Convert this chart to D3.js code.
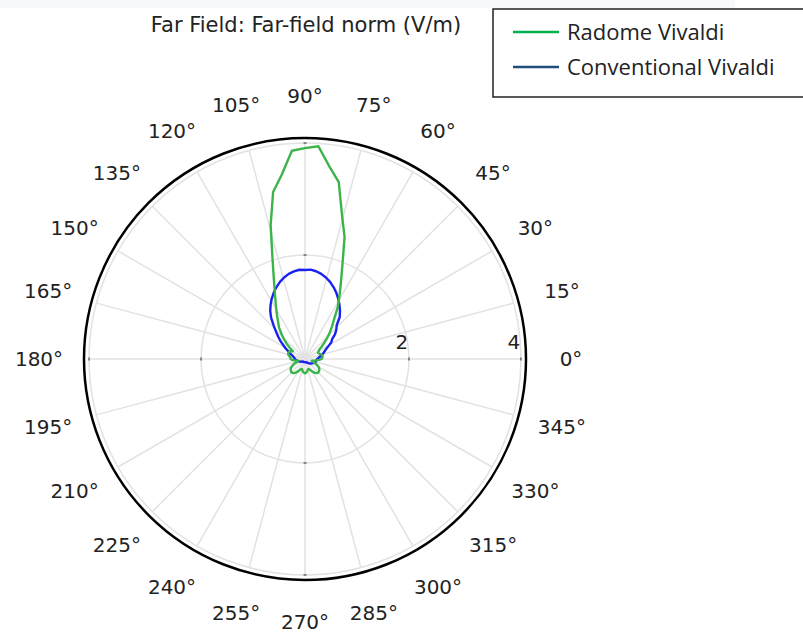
<!DOCTYPE html>
<html>
<head>
<meta charset="utf-8">
<script src="https://cdn.jsdelivr.net/npm/d3@7"></script>
<style>
  body { margin: 0; background: #ffffff; }
  svg { display: block; }
</style>
</head>
<body>
<svg id="chart" width="803" height="634"></svg>
<script>
// Far-field norm (V/m) sampled every 3.6 degrees, 0..356.4
const angleStep = 3.6;

const radomeVivaldi = [
  0.44, 0.45, 0.46, 0.46, 0.45, 0.43, 0.41, 0.40, 0.42, 0.44,
  0.50, 0.58, 0.68, 0.79, 0.90, 1.03, 1.23, 1.42, 1.65, 1.96,
  2.43, 2.80, 3.36, 3.61, 3.95, 3.91, 3.87, 3.46, 3.18, 2.61,
  2.02, 1.65, 1.40, 1.22, 1.08, 0.96, 0.87, 0.755, 0.66, 0.56,
  0.47, 0.40, 0.43, 0.45, 0.46, 0.46, 0.45, 0.43, 0.41, 0.40,
  0.40, 0.38, 0.34, 0.30, 0.27, 0.28, 0.32, 0.37, 0.41, 0.44,
  0.46, 0.47, 0.48, 0.48, 0.47, 0.45, 0.42, 0.39, 0.36, 0.34,
  0.33, 0.34, 0.36, 0.38, 0.39, 0.40, 0.39, 0.38, 0.36, 0.34,
  0.33, 0.34, 0.36, 0.39, 0.42, 0.45, 0.47, 0.48, 0.48, 0.47,
  0.46, 0.44, 0.41, 0.37, 0.32, 0.28, 0.27, 0.30, 0.34, 0.40
];

const conventionalVivaldi = [
  0.36, 0.38, 0.40, 0.43, 0.46, 0.49, 0.52, 0.56, 0.62, 0.70,
  0.74, 0.84, 0.91, 0.97, 1.116, 1.206, 1.29, 1.375, 1.454, 1.525,
  1.59, 1.645, 1.69, 1.723, 1.743, 1.732, 1.74, 1.72, 1.69, 1.645,
  1.59, 1.525, 1.454, 1.375, 1.29, 1.20, 1.09, 0.96, 0.85, 0.76,
  0.68, 0.60, 0.54, 0.48, 0.44, 0.40, 0.37, 0.355, 0.34, 0.33,
  0.32, 0.31, 0.30, 0.29, 0.28, 0.27, 0.26, 0.25, 0.24, 0.23,
  0.22, 0.22, 0.21, 0.21, 0.20, 0.20, 0.20, 0.20, 0.20, 0.20,
  0.20, 0.20, 0.20, 0.20, 0.20, 0.20, 0.20, 0.20, 0.20, 0.20,
  0.20, 0.21, 0.21, 0.22, 0.22, 0.23, 0.24, 0.25, 0.26, 0.27,
  0.28, 0.29, 0.30, 0.31, 0.32, 0.33, 0.34, 0.34, 0.35, 0.35
];

const seriesNames = ["Radome Vivaldi", "Conventional Vivaldi"];
const radialTicks = [2, 4];
const angleTicks = d3.range(0, 360, 15);
const radialDomain = [0.143, 4.09];
const titleText = "Far Field: Far-field norm (V/m)";

const svg = d3.select("#chart");
const cx = 305, cy = 359, R = 221;

// light band across the top edge
svg.append("rect").attr("x", 0).attr("y", 0).attr("width", 735).attr("height", 8)
  .attr("fill", "#f6f8fc");

const rScale = d3.scaleLinear().domain(radialDomain).range([0, R]);
const aScale = d3.scaleLinear().domain([0, 360]).range([0, 2 * Math.PI]);

const g = svg.append("g").attr("transform", `translate(${cx},${cy})`);

// polar helpers (math convention: counter-clockwise from +x)
const px = (deg, rad) => rad * Math.cos(aScale(deg));
const py = (deg, rad) => -rad * Math.sin(aScale(deg));

// spokes
g.selectAll("line.spoke").data(angleTicks).join("line")
  .attr("class", "spoke")
  .attr("x1", 0).attr("y1", 0)
  .attr("x2", d => px(d, rScale(4)))
  .attr("y2", d => py(d, rScale(4)))
  .attr("stroke", "#e2e2e2").attr("stroke-width", 1.5);

// grid circles
g.selectAll("circle.grid").data(radialTicks).join("circle")
  .attr("class", "grid")
  .attr("r", d => rScale(d))
  .attr("fill", "none").attr("stroke", "#e2e2e2").attr("stroke-width", 1.5);

// small tick marks where grid circles meet the main axes
const tickMarks = [];
[0, 90, 180, 270].forEach(ang => radialTicks.forEach(v => tickMarks.push({ ang, v })));
g.selectAll("line.tick").data(tickMarks).join("line")
  .attr("class", "tick")
  .each(function (d) {
    const rr = rScale(d.v);
    const x = px(d.ang, rr), y = py(d.ang, rr);
    const tx = -Math.sin(aScale(d.ang)) * 1.5, ty = -Math.cos(aScale(d.ang)) * 1.5;
    d3.select(this).attr("x1", x - tx).attr("y1", y - ty).attr("x2", x + tx).attr("y2", y + ty);
  })
  .attr("stroke", "#666").attr("stroke-width", 1.5);

// outer boundary
g.append("circle").attr("r", R).attr("fill", "none")
  .attr("stroke", "#000").attr("stroke-width", 2.5);

// radial tick labels
g.selectAll("text.rlabel").data(radialTicks).join("text")
  .attr("class", "rlabel")
  .attr("x", d => rScale(d) - 7)
  .attr("y", -10)
  .attr("text-anchor", "middle")
  .attr("font-family", "DejaVu Sans, sans-serif")
  .attr("font-size", 20)
  .attr("fill", "#222")
  .text(d => d);

// angle labels
g.selectAll("text.alabel").data(angleTicks).join("text")
  .attr("class", "alabel")
  .attr("x", d => px(d, 266))
  .attr("y", d => py(d, 263))
  .attr("text-anchor", "middle")
  .attr("dominant-baseline", "central")
  .attr("font-family", "DejaVu Sans, sans-serif")
  .attr("font-size", 20)
  .attr("fill", "#222")
  .text(d => d + "°");

// series
const toPoints = vals => vals.map((v, i) => ({ angle: i * angleStep, value: v }));
const radial = d3.lineRadial()
  .angle(d => Math.PI / 2 - aScale(d.angle))
  .radius(d => rScale(Math.max(d.value, radialDomain[0])))
  .curve(d3.curveLinearClosed);

const plotColors = { radome: "#3bb54a", conventional: "#1a22f0" };
g.append("path")
  .datum(toPoints(conventionalVivaldi))
  .attr("d", radial)
  .attr("fill", "none")
  .attr("stroke", plotColors.conventional)
  .attr("stroke-width", 2.4)
  .attr("stroke-linejoin", "round");
g.append("path")
  .datum(toPoints(radomeVivaldi))
  .attr("d", radial)
  .attr("fill", "none")
  .attr("stroke", plotColors.radome)
  .attr("stroke-width", 2.4)
  .attr("stroke-linejoin", "round");

// title
svg.append("text")
  .attr("x", cx + 1).attr("y", 32)
  .attr("text-anchor", "middle")
  .attr("font-family", "DejaVu Sans, sans-serif")
  .attr("font-size", 21)
  .attr("fill", "#222")
  .text(titleText);

// legend
const legendColors = ["#00b050", "#1f4e79"];
const lg = svg.append("g");
lg.append("rect").attr("x", 493).attr("y", 9).attr("width", 330).attr("height", 88)
  .attr("fill", "#fff").attr("stroke", "#222").attr("stroke-width", 1.5);
seriesNames.forEach((name, i) => {
  const y = 32 + i * 35;
  lg.append("line").attr("x1", 513).attr("x2", 559).attr("y1", y).attr("y2", y)
    .attr("stroke", legendColors[i]).attr("stroke-width", 2.5);
  lg.append("text").attr("x", 567).attr("y", y + 8)
    .attr("font-family", "Open Sans, sans-serif")
    .attr("font-size", 22)
    .attr("fill", "#222")
    .text(name);
});
</script>
</body>
</html>
